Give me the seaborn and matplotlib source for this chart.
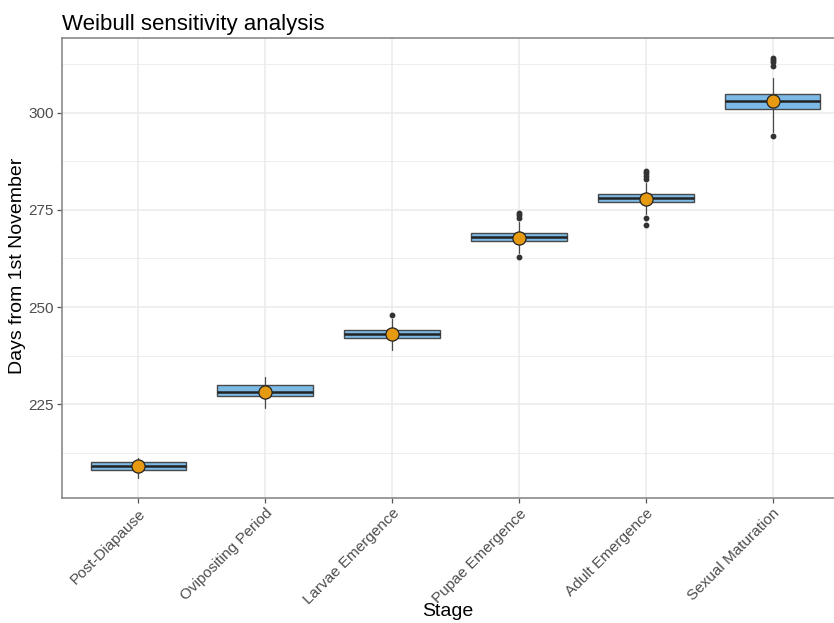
import matplotlib
matplotlib.use("Agg")
import matplotlib.pyplot as plt
import seaborn as sns
import pandas as pd
from matplotlib.ticker import FixedLocator

stages = ["Post-Diapause", "Ovipositing Period", "Larvae Emergence",
          "Pupae Emergence", "Adult Emergence", "Sexual Maturation"]
q1 = [208, 227, 242, 267, 277, 301]
medians = [209, 228, 243, 268, 278, 303]
q3 = [210, 230, 244, 269, 279, 305]
whisker_low = [206, 224, 239, 264, 274, 295]
whisker_high = [211, 232, 247, 272, 282, 309]
means = [209.1, 228.1, 243.0, 267.9, 277.9, 303.1]
outliers_post = []
outliers_ovip = []
outliers_larvae = [248]
outliers_pupae = [274.2, 273.6, 273.0, 263.0]
outliers_adult = [285.0, 284.4, 283.8, 283.0, 273.0, 271.0]
outliers_sexual = [314.2, 313.6, 313.0, 312.2, 294.0]
outliers = [outliers_post, outliers_ovip, outliers_larvae,
            outliers_pupae, outliers_adult, outliers_sexual]
y_ticks = [225, 250, 275, 300]

sns.set_theme(style="white")
plt.rcParams['font.family'] = ['Liberation Sans', 'DejaVu Sans']

W, H = 834, 623
fig = plt.figure(figsize=(W / 100, H / 100), dpi=100)
ax = fig.add_axes([62 / W, 1 - 498 / H, 787 / W, 460 / H])

stats = []
for i in range(len(stages)):
    stats.append(dict(q1=q1[i], med=medians[i], q3=q3[i],
                      whislo=whisker_low[i], whishi=whisker_high[i],
                      fliers=outliers[i], label=stages[i]))

positions = list(range(len(stages)))
ax.bxp(stats, positions=positions, widths=0.75, patch_artist=True,
       showcaps=False, showfliers=True,
       boxprops=dict(facecolor='#7BBAE6', edgecolor='#4a4a4a', linewidth=1.0),
       medianprops=dict(color='#222222', linewidth=1.8),
       whiskerprops=dict(color='#4a4a4a', linewidth=0.9),
       flierprops=dict(marker='o', markerfacecolor='#333333', markeredgecolor='#333333',
                       markersize=3.2, linestyle='none'),
       zorder=3)

df_means = pd.DataFrame({"x": positions, "mean": means})
sns.scatterplot(data=df_means, x="x", y="mean", ax=ax, s=90, color='#E69A12',
                edgecolor='#222222', linewidth=0.9, zorder=5, legend=False)

ax.set_xlim(-0.6, len(stages) - 1 + 0.6)
ax.set_ylim(200.8, 319.3)
ax.yaxis.set_major_locator(FixedLocator(y_ticks))
ax.yaxis.set_minor_locator(FixedLocator([212.5, 237.5, 262.5, 287.5, 312.5]))
ax.set_xticks(positions)
ax.set_xticklabels(stages, rotation=45, ha='right', rotation_mode='anchor')
ax.xaxis.set_minor_locator(FixedLocator([]))

ax.grid(True, which='major', color='#EBEBEB', linewidth=1.1, zorder=0)
ax.grid(True, which='minor', axis='y', color='#EBEBEB', linewidth=0.6, zorder=0)
ax.set_axisbelow(True)

for s in ax.spines.values():
    s.set_color('#8a8a8a')
    s.set_linewidth(1.2)
ax.spines['right'].set_visible(False)

ax.tick_params(axis='both', which='major', length=3.5, width=0.9, color='#555555',
               labelsize=11, labelcolor='#4D4D4D', pad=2.5)
ax.tick_params(axis='both', which='minor', length=0)
ax.tick_params(axis='x', bottom=True)
ax.tick_params(axis='y', left=True)

ax.set_xlabel("")
ax.set_ylabel("")
fig.text(18 / W, 1 - 266 / H, "Days from 1st November", ha='center', va='center',
         rotation=90, fontsize=14, color='black')
fig.text(448 / W, 1 - 611 / H, "Stage", ha='center', va='center', fontsize=14,
         color='black')
fig.text(62 / W, 1 - 30 / H, "Weibull sensitivity analysis", ha='left',
         va='baseline', fontsize=16, color='black')

fig.savefig("out.png", dpi=100)
